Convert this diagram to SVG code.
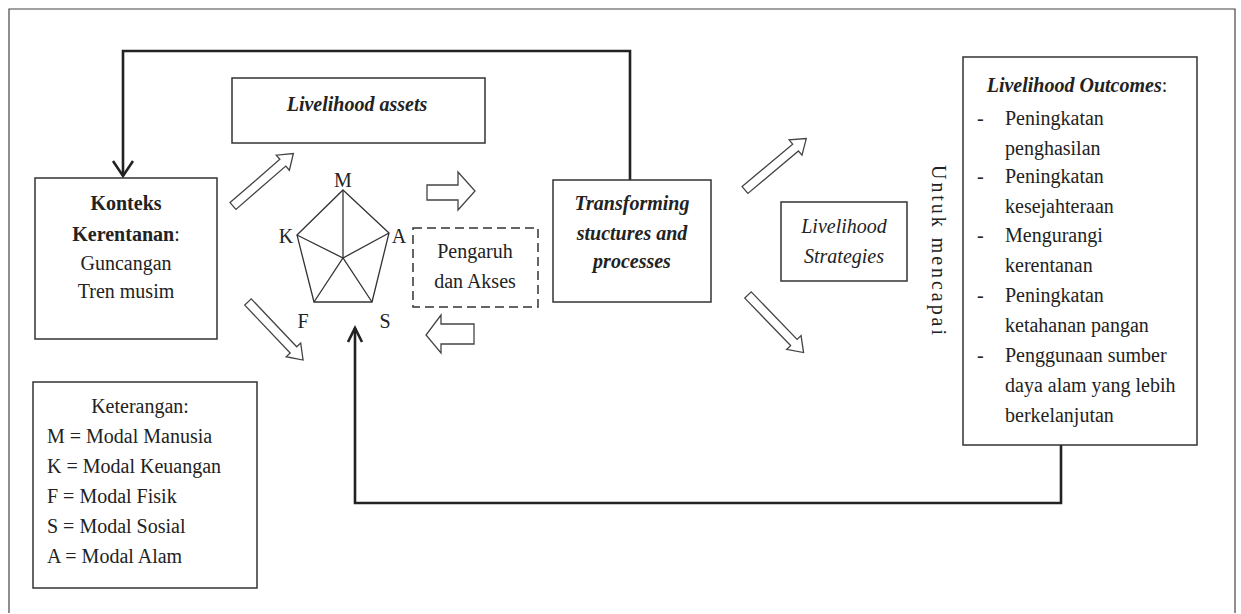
<svg xmlns="http://www.w3.org/2000/svg" width="1241" height="614" viewBox="0 0 1241 614">
<style>
.box{fill:#fff;stroke:#333;stroke-width:1.5}
.dash{fill:#fff;stroke:#333;stroke-width:1.5;stroke-dasharray:9,5}
.fb{fill:none;stroke:#222;stroke-width:2.6}
.ha{fill:#fff;stroke:#444;stroke-width:1.3;stroke-linejoin:miter}
.pent{fill:none;stroke:#333;stroke-width:1.3}
text{font-family:"Liberation Serif","Times New Roman",serif;fill:#222;font-size:20px}
.bi{font-weight:bold;font-style:italic}
.it{font-style:italic}
.b{font-weight:bold}
.c{text-anchor:middle}
</style>
<defs>
<path id="harrow" d="M0,-4.5 L66,-4.5 L66,-10 L80,0 L66,10 L66,4.5 L0,4.5 Z"/>
</defs>
<rect width="1241" height="614" fill="#fff"/>
<path d="M9,613 V9 H1235 V613" fill="none" stroke="#444" stroke-width="1.2"/>

<g id="connectors">
<polyline class="fb" points="630,180 630,51 123,51 123,176"/>
<polyline class="fb" points="113,161 123,176 133,161"/>
<polyline class="fb" points="1061,445 1061,503 355,503 355,328"/>
<polyline class="fb" points="348,342 355,328 362,342"/>
<use href="#harrow" class="ha" transform="translate(233,206) rotate(-41)"/>
<use href="#harrow" class="ha" transform="translate(248,302) rotate(46.5)"/>
<use href="#harrow" class="ha" transform="translate(745,190) rotate(-40)"/>
<use href="#harrow" class="ha" transform="translate(748,295) rotate(46)"/>
<path class="ha" d="M427,185 H458 V172 L475,191 L458,210 V200 H427 Z"/>
<path class="ha" d="M474,324 H441 V315 L426,335 L441,353 V344 H474 Z"/>
</g>

<g id="konteks">
<rect class="box" x="35" y="178" width="182" height="161"/>
<text class="c b" x="126" y="210">Konteks</text>
<text class="c" x="126" y="241"><tspan class="b">Kerentanan</tspan>:</text>
<text class="c" x="126" y="270">Guncangan</text>
<text class="c" x="126" y="298">Tren musim</text>
</g>

<g id="assets">
<rect class="box" x="232" y="78" width="253" height="65"/>
<text class="c bi" x="357" y="111" font-size="23">Livelihood assets</text>
</g>

<g id="pentagon">
<polygon class="pent" points="343,190 389,233 372,302 314,302 297,235"/>
<polyline class="pent" points="343,190 343,258"/>
<polyline class="pent" points="297,235 343,258 389,233"/>
<polyline class="pent" points="314,302 343,258 372,302"/>
<text class="c" x="343" y="187" font-size="19">M</text>
<text class="c" x="286" y="243" font-size="19">K</text>
<text class="c" x="399" y="243" font-size="19">A</text>
<text class="c" x="303" y="328" font-size="19">F</text>
<text class="c" x="385" y="328" font-size="19">S</text>
</g>

<g id="pengaruh">
<rect class="dash" x="413" y="228" width="125" height="79"/>
<text class="c" x="475" y="258">Pengaruh</text>
<text class="c" x="475" y="288">dan Akses</text>
</g>

<g id="transforming">
<rect class="box" x="553" y="180" width="158" height="122"/>
<text class="c bi" x="632" y="210">Transforming</text>
<text class="c bi" x="632" y="240">stuctures and</text>
<text class="c bi" x="632" y="268">processes</text>
</g>

<g id="strategies">
<rect class="box" x="781" y="202" width="126" height="79"/>
<text class="c it" x="844" y="233">Livelihood</text>
<text class="c it" x="844" y="263">Strategies</text>
</g>

<g id="untuk">
<text transform="translate(932,250) rotate(90)" class="c" font-size="18" textLength="170" lengthAdjust="spacing">Untuk mencapai</text>
</g>

<g id="outcomes">
<rect class="box" x="963" y="57" width="234" height="388"/>
<text class="c" x="1077" y="92"><tspan class="bi">Livelihood Outcomes</tspan>:</text>
<text x="977" y="125">-</text>
<text x="1005" y="125">Peningkatan</text>
<text x="1005" y="155">penghasilan</text>
<text x="977" y="183">-</text>
<text x="1005" y="183">Peningkatan</text>
<text x="1005" y="213">kesejahteraan</text>
<text x="977" y="242">-</text>
<text x="1005" y="242">Mengurangi</text>
<text x="1005" y="272">kerentanan</text>
<text x="977" y="302">-</text>
<text x="1005" y="302">Peningkatan</text>
<text x="1005" y="332">ketahanan pangan</text>
<text x="977" y="362">-</text>
<text x="1005" y="362">Penggunaan sumber</text>
<text x="1005" y="392">daya alam yang lebih</text>
<text x="1005" y="422">berkelanjutan</text>
</g>

<g id="keterangan">
<rect class="box" x="33" y="382" width="224" height="206"/>
<text class="c" x="140" y="413">Keterangan:</text>
<text x="47" y="443">M = Modal Manusia</text>
<text x="47" y="473">K = Modal Keuangan</text>
<text x="47" y="503">F = Modal Fisik</text>
<text x="47" y="533">S = Modal Sosial</text>
<text x="47" y="563">A = Modal Alam</text>
</g>
</svg>
